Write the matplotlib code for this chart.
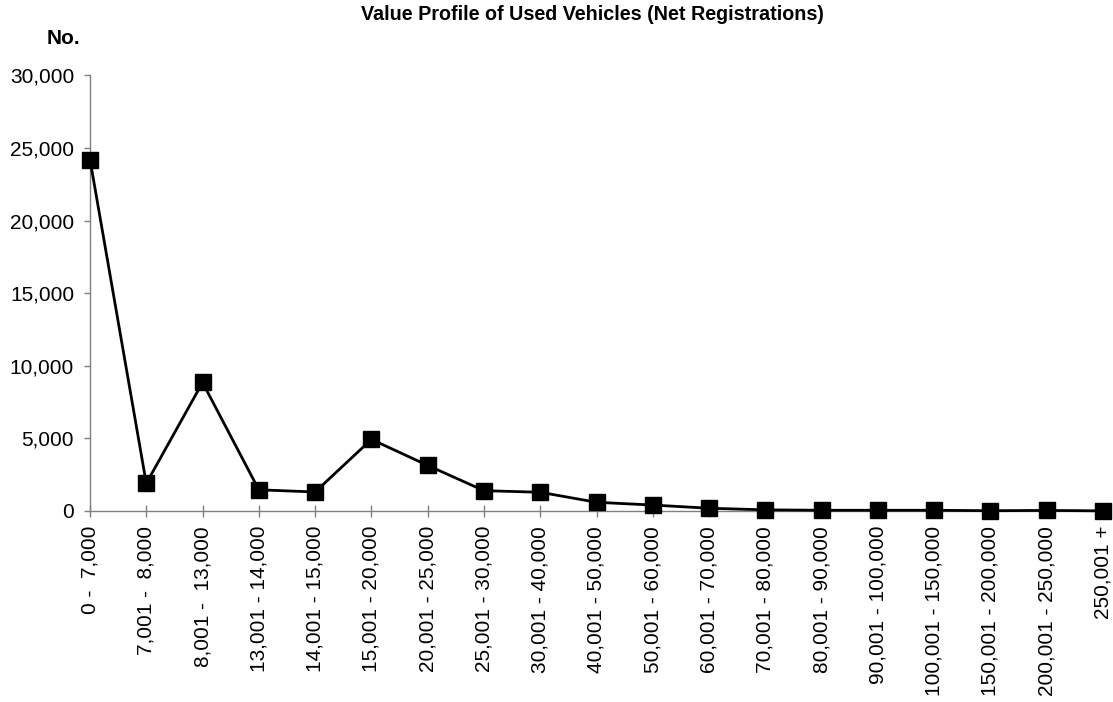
import matplotlib
matplotlib.use("Agg")
import matplotlib.pyplot as plt
from matplotlib.ticker import FuncFormatter

plt.rcParams['font.family'] = ['Liberation Sans', 'DejaVu Sans']

# value bands and number of registrations
bandas = ["0 -  7,000", "7,001 -  8,000", "8,001 -  13,000", "13,001 - 14,000",
          "14,001 - 15,000", "15,001 - 20,000", "20,001 - 25,000", "25,001 - 30,000",
          "30,001 - 40,000", "40,001 - 50,000", "50,001 - 60,000", "60,001 - 70,000",
          "70,001 - 80,000", "80,001 - 90,000", "90,001 - 100,000", "100,001 - 150,000",
          "150,001 - 200,000", "200,001 - 250,000", "250,001 +"]
registros = [24200, 1900, 8850, 1460, 1310, 4930, 3140, 1400, 1290, 600,
             410, 190, 80, 50, 50, 50, 20, 40, 10]
y_ticks = [0, 5000, 10000, 15000, 20000, 25000, 30000]

fig = plt.figure(figsize=(11.13, 7.02), dpi=100)
ax = fig.add_axes([90/1113, 1 - 511/702, (1103 - 90)/1113, (511 - 75.3)/702])

x = list(range(len(bandas)))
ax.plot(x, registros, "-s", c="black", lw=2, ms=11, clip_on=False, zorder=3)

ax.set_xlim(0, len(bandas) - 1)
ax.set_ylim(0, 30000)
ax.set_yticks(y_ticks)
ax.yaxis.set_major_formatter(FuncFormatter(lambda v, p: f"{int(v):,}"))
ax.set_xticks(x)
ax.set_xticklabels(bandas, rotation=90)

for s in ["top", "right"]:
    ax.spines[s].set_visible(False)
for s in ["left", "bottom"]:
    ax.spines[s].set_color("#7f7f7f")
    ax.spines[s].set_linewidth(1)

ax.tick_params(axis="y", direction="out", length=4.5, width=1, color="#7f7f7f",
               labelsize=15, pad=7)
ax.tick_params(axis="x", direction="inout", length=8.5, width=1, color="#7f7f7f",
               labelsize=15, pad=6.5)

fig.text(592/1113, 1 - 14/702, "Value Profile of Used Vehicles (Net Registrations)",
         ha="center", va="center", fontsize=14.2, fontweight="bold")
fig.text(63/1113, 1 - 39/702, "No.", ha="center", va="center",
         fontsize=15, fontweight="bold")

fig.savefig("out.png", dpi=100)
